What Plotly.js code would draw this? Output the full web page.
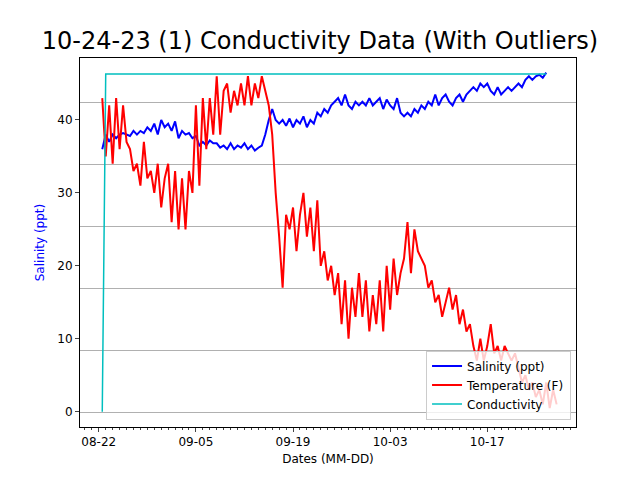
<!DOCTYPE html>
<html>
<head>
<meta charset="utf-8">
<script src="https://cdn.plot.ly/plotly-3.0.1.min.js"></script>
<style>body{margin:0}#chart{width:640px;height:480px}</style>
</head>
<body>
<div id="chart"></div>
<script>
// readings every 12 hours starting 2023-08-22 12:00
const startTime = '2023-08-22T12:00:00';
const stepHours = 12;

const salinity = [36, 38, 37, 38, 37.5, 38, 38.2, 38, 37.8, 38.5, 38, 38.5, 38.2, 39, 38.5, 39.5, 38, 40, 39,
  39.5, 38.5, 39.8, 37.5, 38.5, 38, 38.2, 37.5, 37.8, 36.5, 37, 36.5, 37.2, 36.8, 36.8, 36.2, 36.5, 36,
  36.8, 36, 36.5, 36.2, 36.8, 36, 36.5, 35.8, 36.2, 36.5, 38, 40, 41.5, 40, 39.5, 40, 39.2, 40.2, 39, 40,
  39.5, 40.5, 39, 40, 39.5, 41, 40.5, 41.5, 41, 42, 42.5, 43, 42, 43.5, 42, 41.5, 42.5, 42, 42.5, 42, 43,
  42, 42.5, 43, 41.5, 42.8, 42, 41.5, 43, 41, 40.5, 41, 40.5, 41.5, 41, 42, 41.5, 42.5, 42, 43.5, 42, 43,
  43.5, 42.5, 42, 43, 43.5, 42.5, 43.5, 44, 44.5, 44, 45, 44.5, 45, 44, 43.5, 44.5, 43.5, 44, 44.5, 44,
  44.5, 45, 44.5, 45.5, 46, 45.5, 46, 46.2, 45.8, 46.5];

const temperature = [43, 35, 42, 34, 43, 36, 42, 37, 36, 33, 34, 31, 37, 32, 33, 30, 34, 28, 32, 34, 26, 33,
  25, 32, 25, 33, 30, 42, 31, 43, 36, 43, 38, 46, 38, 44, 45, 41, 44, 42, 45, 42, 46, 42, 45, 43, 46, 44,
  42, 38, 30, 24, 17, 27, 25, 28, 22, 27, 30, 24, 28, 22, 29, 20, 22, 18, 20, 16, 19, 12, 18, 10, 17, 13,
  19, 13, 18, 11, 16, 12, 18, 11, 20, 14, 21, 16, 19, 21, 26, 19, 25, 22, 21, 20, 17, 18, 15, 16, 13, 15,
  17, 14, 16, 12, 14, 11, 12, 9, 7, 10, 7, 9, 12, 8, 9, 7, 9, 8, 7, 8, 6, 4, 5, 3, 4, 2, 3, 1, 4, 0.5, 3, 1];

const conductivityFirst = 0;
const conductivityLevel = 46.3;

function timeAt(i) {
  const d = new Date(startTime + 'Z');
  d.setUTCHours(d.getUTCHours() + i * stepHours);
  return d.toISOString().slice(0, 19).replace('T', ' ');
}

const salDates = salinity.map((v, i) => timeAt(i));
const tempDates = temperature.map((v, i) => timeAt(i));
const condValues = salinity.map((v, i) => i === 0 ? conductivityFirst : conductivityLevel);

const data = [
  {x: salDates, y: salinity, name: 'Salinity (ppt)', mode: 'lines', line: {color: '#0000ff', width: 2}},
  {x: tempDates, y: temperature, name: 'Temperature (F)', mode: 'lines', line: {color: '#ff0000', width: 2}},
  {x: salDates, y: condValues, name: 'Conductivity', mode: 'lines', line: {color: '#00bfbf', width: 1.5}},
  {x: [salDates[0]], y: [0], yaxis: 'y2', showlegend: false, hoverinfo: 'skip', mode: 'markers', marker: {opacity: 0}}
];

const layout = {
  width: 640, height: 480,
  margin: {l: 80, r: 64, t: 58, b: 53},
  paper_bgcolor: 'white', plot_bgcolor: 'white',
  font: {family: 'DejaVu Sans', size: 12, color: 'black'},
  title: {text: '10-24-23 (1) Conductivity Data (With Outliers)', font: {size: 24}, x: 0.5, xanchor: 'center', y: 0.915, yanchor: 'middle'},
  showlegend: true,
  legend: {x: 0.99, y: 0.02, xanchor: 'right', yanchor: 'bottom', bgcolor: 'rgba(255,255,255,0.8)', bordercolor: '#cccccc', borderwidth: 1, font: {size: 12}},
  xaxis: {
    type: 'date', range: ['2023-08-19 07:00', '2023-10-29 19:00'],
    tick0: '2023-08-22', dtick: 14 * 86400000, tickformat: '%m-%d',
    ticks: 'outside', ticklen: 4, showgrid: false, zeroline: false,
    showline: true, linecolor: 'black', mirror: true,
    minor: {dtick: 86400000, ticks: 'outside', ticklen: 2, showgrid: false},
    title: {text: 'Dates (MM-DD)', font: {size: 12}, standoff: 6}
  },
  yaxis: {
    range: [-2.1, 48.5], tick0: 0, dtick: 10, ticks: 'outside', ticklen: 4,
    showgrid: false, zeroline: false, showline: true, linecolor: 'black', mirror: true,
    title: {text: 'Salinity (ppt)', font: {size: 12, color: '#0000ff'}, standoff: 10}
  },
  yaxis2: {
    overlaying: 'y', side: 'right', range: [-0.24, 5.71], dtick: 1, tick0: 0,
    showticklabels: false, ticks: '', showgrid: true, gridcolor: '#b0b0b0', gridwidth: 1, zeroline: false
  }
};

Plotly.newPlot('chart', data, layout, {displayModeBar: false});
</script>
</body>
</html>
